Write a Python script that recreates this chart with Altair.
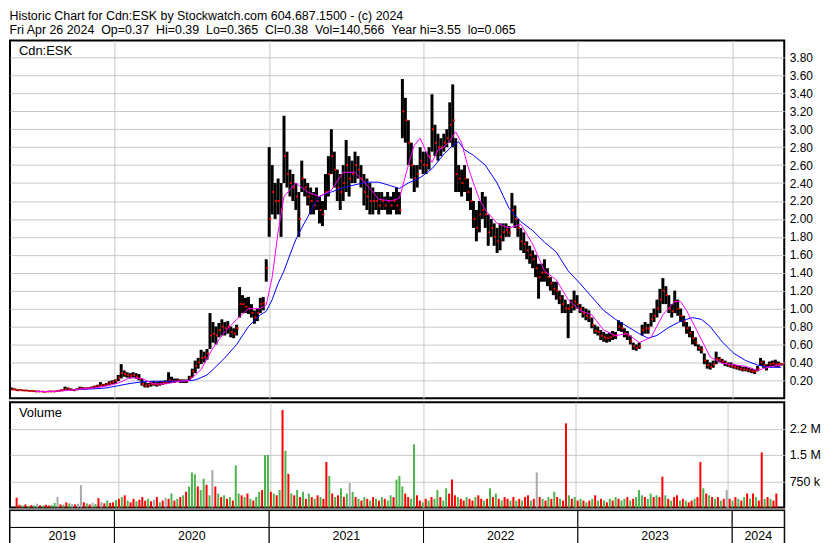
import altair as alt
import pandas as pd
import numpy as np

F = "Liberation Sans"
GRID = "#c8c8c8"
W = 779

START = "2019-05-03"  # first weekly bar (Friday)

header_1 = "Historic Chart for Cdn:ESK by Stockwatch.com 604.687.1500 - (c) 2024"
header_2 = ("Fri Apr 26 2024 \u00a0Op=0.37 \u00a0Hi=0.39 \u00a0Lo=0.365 \u00a0Cl=0.38"
            " \u00a0Vol=140,566 \u00a0Year hi=3.55 \u00a0lo=0.065")

# weekly lows
lo = [
    .09, .09, .08, .085, .08, .08, .075, .075, .07, .07,
    .07, .065, .07, .07, .07, .07, .075, .08, .085, .09,
    .085, .08, .09, .10, .10, .10, .105, .11, .11, .12,
    .13, .13, .14, .15, .16, .16, .19, .22, .24, .23,
    .22, .23, .22, .20, .14, .12, .12, .13, .14, .13,
    .14, .15, .16, .17, .17, .17, .18, .17, .17, .17,
    .20, .23, .28, .33, .38, .40, .43, .55, .62, .60,
    .68, .70, .70, .72, .68, .67, .70, .90, .95, .95,
    .94, .90, .83, .86, .95, .98, 1.30, 1.80, 2.05, 2.00,
    2.05, 1.80, 2.40, 2.35, 2.25, 2.20, 2.10, 1.80, 2.30, 2.25,
    2.15, 2.05, 2.05, 2.10, 1.95, 1.92, 2.10, 2.25, 2.50, 2.35,
    2.20, 2.10, 2.20, 2.30, 2.25, 2.40, 2.40, 2.45, 2.35, 2.15,
    2.10, 2.05, 2.05, 2.10, 2.05, 2.10, 2.10, 2.05, 2.05, 2.10,
    2.05, 2.05, 2.90, 2.85, 2.60, 2.45, 2.30, 2.35, 2.55, 2.50,
    2.50, 2.55, 2.75, 2.70, 2.65, 2.70, 2.75, 2.80, 2.85, 2.80,
    2.30, 2.30, 2.25, 2.30, 2.20, 2.10, 1.90, 1.75, 1.85, 2.00,
    1.90, 1.70, 1.80, 1.70, 1.62, 1.65, 1.75, 1.80, 1.80, 1.95,
    1.90, 1.80, 1.65, 1.62, 1.55, 1.50, 1.45, 1.35, 1.11, 1.30,
    1.30, 1.25, 1.20, 1.15, 1.10, 1.05, .95, .95, .67, .95,
    .98, 1.00, .95, .90, .87, .85, .78, .72, .70, .65,
    .63, .62, .63, .65, .66, .75, .74, .68, .65, .60,
    .54, .53, .55, .70, .72, .72, .80, .85, .90, .95,
    1.05, 1.05, .95, .90, .95, .92, .85, .80, .72, .68,
    .60, .58, .53, .50, .38, .33, .32, .34, .38, .40,
    .39, .36, .35, .34, .33, .32, .31, .30, .30, .29,
    .28, .27, .30, .36, .34, .31, .35, .36, .35, .35,
    .365,
]

# weekly highs
hi = [
    .12, .11, .10, .10, .095, .095, .09, .09, .085, .085,
    .08, .08, .08, .085, .08, .085, .09, .10, .13, .12,
    .11, .10, .11, .13, .125, .12, .125, .13, .14, .15,
    .18, .16, .17, .19, .20, .21, .26, .38, .31, .29,
    .28, .29, .28, .27, .22, .18, .17, .18, .19, .18,
    .19, .19, .20, .29, .24, .22, .22, .21, .21, .21,
    .25, .33, .42, .45, .54, .52, .55, .95, .85, .80,
    .84, .88, .85, .86, .80, .78, .82, 1.24, 1.15, 1.12,
    1.13, 1.05, .98, 1.00, 1.12, 1.13, 1.55, 2.80, 2.60, 2.40,
    2.45, 2.40, 3.15, 2.75, 2.55, 2.50, 2.40, 2.30, 2.65, 2.45,
    2.40, 2.35, 2.30, 2.35, 2.25, 2.20, 2.50, 2.70, 3.00, 2.75,
    2.55, 2.50, 2.60, 2.88, 2.70, 2.65, 2.75, 2.70, 2.60, 2.50,
    2.45, 2.40, 2.35, 2.30, 2.30, 2.30, 2.25, 2.30, 2.25, 2.30,
    2.35, 2.30, 3.56, 3.35, 3.10, 2.85, 2.60, 2.60, 2.80, 2.75,
    2.75, 2.80, 3.39, 3.05, 2.95, 2.90, 2.95, 3.00, 3.30, 3.50,
    2.90, 2.60, 2.55, 2.60, 2.45, 2.35, 2.20, 2.10, 2.20, 2.30,
    2.25, 2.05, 2.00, 1.95, 1.90, 1.95, 1.95, 1.95, 1.92, 2.29,
    2.15, 2.00, 1.90, 1.85, 1.75, 1.70, 1.65, 1.60, 1.50, 1.50,
    1.55, 1.45, 1.35, 1.30, 1.30, 1.20, 1.15, 1.10, 1.05, 1.10,
    1.20, 1.15, 1.05, 1.02, 1.00, .98, .90, .82, .80, .76,
    .74, .72, .73, .75, .74, .87, .85, .78, .75, .70,
    .62, .60, .62, .82, .85, .83, .95, 1.00, 1.10, 1.22,
    1.34, 1.25, 1.15, 1.05, 1.20, 1.10, 1.00, .92, .85, .80,
    .75, .68, .60, .58, .50, .43, .40, .42, .52, .46,
    .44, .42, .40, .40, .38, .37, .36, .35, .35, .34,
    .33, .32, .36, .45, .42, .38, .41, .42, .43, .41,
    .39,
]

# weekly closes
cl = [
    .10, .095, .09, .09, .085, .085, .08, .08, .075, .075,
    .075, .07, .075, .075, .075, .08, .085, .09, .10, .10,
    .095, .09, .10, .11, .11, .11, .115, .12, .13, .14,
    .15, .145, .16, .17, .18, .20, .23, .28, .27, .26,
    .25, .26, .24, .22, .16, .14, .15, .16, .16, .15,
    .16, .17, .18, .20, .19, .19, .20, .19, .19, .19,
    .23, .30, .36, .40, .45, .46, .50, .70, .72, .70,
    .76, .80, .78, .80, .74, .72, .78, 1.05, 1.05, 1.02,
    1.00, .95, .90, .95, 1.05, 1.06, 1.45, 2.00, 2.30, 2.20,
    2.20, 2.10, 2.70, 2.50, 2.40, 2.35, 2.25, 2.00, 2.45, 2.35,
    2.25, 2.20, 2.15, 2.20, 2.10, 2.05, 2.30, 2.50, 2.70, 2.55,
    2.35, 2.30, 2.40, 2.60, 2.45, 2.50, 2.60, 2.55, 2.45, 2.30,
    2.25, 2.20, 2.20, 2.20, 2.15, 2.20, 2.15, 2.20, 2.15, 2.20,
    2.15, 2.10, 3.20, 3.10, 2.85, 2.60, 2.45, 2.50, 2.65, 2.60,
    2.60, 2.70, 3.00, 2.85, 2.80, 2.80, 2.85, 2.90, 3.05, 3.10,
    2.50, 2.45, 2.40, 2.45, 2.30, 2.20, 2.00, 1.90, 2.05, 2.10,
    2.05, 1.85, 1.90, 1.80, 1.75, 1.80, 1.85, 1.88, 1.85, 2.10,
    2.00, 1.90, 1.75, 1.72, 1.65, 1.60, 1.55, 1.45, 1.35, 1.40,
    1.40, 1.35, 1.28, 1.22, 1.20, 1.12, 1.05, 1.00, 1.00, 1.02,
    1.08, 1.05, 1.00, .95, .92, .90, .82, .75, .74, .70,
    .68, .67, .68, .70, .70, .80, .78, .72, .70, .64,
    .58, .56, .58, .76, .78, .78, .88, .92, 1.00, 1.10,
    1.20, 1.15, 1.00, .97, 1.08, 1.00, .92, .86, .78, .73,
    .67, .62, .56, .54, .42, .37, .35, .38, .44, .43,
    .41, .39, .37, .36, .35, .34, .33, .32, .32, .31,
    .30, .30, .33, .40, .37, .35, .38, .39, .38, .38,
    .38,
]

# weekly volume (thousands of shares) and direction (g up, r down, k unchanged)
vol_k = [
    280, 80, 60, 90, 50, 70, 60, 110, 70, 50,
    80, 60, 70, 130, 300, 90, 80, 150, 120, 100,
    90, 110, 640, 150, 120, 90, 140, 100, 270, 160,
    120, 200, 130, 150, 210, 250, 300, 350, 200, 150,
    250, 180, 220, 300, 200, 250, 180, 220, 300, 150,
    200, 280, 250, 400, 200, 250, 300, 350, 450, 600,
    1000, 950, 600, 500, 820, 650, 350, 1070, 600, 400,
    300, 350, 250, 300, 200, 1200, 400, 350, 300, 400,
    250, 200, 300, 450, 500, 1500, 1500, 450, 400, 350,
    500, 2780, 1620, 960, 400, 350, 500, 300, 450, 250,
    400, 300, 250, 350, 300, 250, 1300, 900, 400, 300,
    350, 550, 300, 400, 700, 450, 300, 250, 200, 300,
    250, 200, 300, 250, 200, 300, 250, 200, 350, 300,
    800, 900, 600, 400, 300, 250, 1800, 350, 200, 150,
    250, 200, 300, 250, 500, 300, 200, 550, 400, 800,
    350, 300, 250, 200, 300, 250, 200, 300, 350, 250,
    200, 250, 550, 300, 400, 250, 200, 300, 250, 200,
    300, 200, 250, 200, 300, 350, 200, 250, 1000, 300,
    250, 200, 300, 250, 450, 300, 250, 200, 2400, 350,
    250, 300, 200, 250, 200, 150, 200, 250, 350, 200,
    250, 200, 150, 250, 200, 300, 250, 200, 250, 300,
    200, 250, 300, 500, 350, 300, 250, 400, 300, 350,
    300, 880, 350, 250, 200, 300, 350, 200, 250, 200,
    150, 200, 250, 300, 1300, 550, 400, 350, 300, 250,
    300, 200, 250, 500, 250, 200, 300, 250, 200, 300,
    400, 250, 400, 300, 200, 1570, 250, 300, 250, 200,
    400,
]
vol_dir = list(
    "rrgrgrgkrg" "rrggkrgrgk" "rkkrgrkgrk" "rgrrgrgrgr" "rgrrrgrkrg"
    "rkrgrgrgrg" "ggrggrgkrg" "rgrgrggrgr" "grggrggrgr" "grgrgrgrgr"
    "grgrgrrgrg" "rgrgkgrgrg" "rgrgrgrggr" "gggrrggrrg" "rgrggrggrr"
    "rgrrgrrgrr" "grgrgrgrrg" "rgrgrrgrkr" "grgrgrgrrg" "rgrgrgrgrg"
    "rgrgrgrggr" "grgggrggrg" "rrgrgrrgrg" "rrgrrgrgrg" "rgrkrgrgrg"
    "rgrgrrgrgr" "r"
)

# moving averages: week index -> value
fast_wk = [8, 12, 16, 20, 24, 28, 32, 36, 40, 44,
           48, 52, 56, 60, 64, 68, 72, 76, 80, 84,
           86, 88, 90, 92, 96, 100, 104, 108, 112, 116,
           120, 124, 128, 131, 134, 136, 138, 140, 142, 144,
           146, 148, 150, 152, 154, 156, 158, 160, 164, 168,
           172, 176, 180, 184, 188, 192, 196, 200, 204, 208,
           212, 216, 220, 224, 226, 228, 232, 236, 240, 244,
           248, 252, 256, 260]
fast_val = [0.075, 0.075, 0.08, 0.09, 0.105, 0.115, 0.135, 0.17, 0.23, 0.22,
            0.16, 0.16, 0.185, 0.2, 0.32, 0.56, 0.74, 0.88, 1.0, 1.0,
            1.04, 1.35, 1.85, 2.25, 2.4, 2.3, 2.25, 2.32, 2.52, 2.52,
            2.38, 2.22, 2.2, 2.23, 2.6, 2.82, 2.9, 2.75, 2.63, 2.77,
            2.8, 2.87, 2.97, 2.85, 2.6, 2.4, 2.22, 2.1, 1.95, 1.9,
            1.94, 1.72, 1.42, 1.32, 1.1, 0.98, 0.93, 0.76, 0.7, 0.72,
            0.62, 0.68, 0.93, 1.08, 1.08, 0.98, 0.72, 0.46, 0.39, 0.374,
            0.355, 0.31, 0.35, 0.374]
slow_wk = [21, 24, 28, 32, 36, 40, 44, 48, 52, 56,
           60, 62, 64, 66, 68, 72, 76, 80, 84, 86,
           88, 90, 92, 94, 96, 98, 100, 102, 104, 106,
           108, 112, 116, 120, 124, 128, 131, 134, 138, 142,
           146, 149, 151, 153, 156, 160, 164, 166, 168, 172,
           176, 180, 184, 188, 192, 196, 200, 204, 208, 212,
           215, 218, 222, 226, 230, 233, 236, 240, 244, 248,
           252, 256, 260]
slow_val = [0.095, 0.1, 0.105, 0.115, 0.14, 0.165, 0.183, 0.19, 0.19, 0.19,
            0.195, 0.205, 0.23, 0.26, 0.32, 0.45, 0.6, 0.8, 0.93, 0.97,
            1.1, 1.28, 1.42, 1.6, 1.77, 1.9, 2.02, 2.15, 2.25, 2.28,
            2.3, 2.35, 2.38, 2.41, 2.41, 2.37, 2.34, 2.4, 2.46, 2.56,
            2.72, 2.82, 2.86, 2.77, 2.71, 2.6, 2.4, 2.26, 2.12, 1.97,
            1.87, 1.74, 1.63, 1.42, 1.28, 1.13, 0.98, 0.88, 0.8, 0.72,
            0.67, 0.7, 0.79, 0.86, 0.9, 0.88, 0.8, 0.63, 0.5, 0.42,
            0.37, 0.345, 0.345]

price_ticks = [0.2, 0.4, 0.6, 0.8, 1.0, 1.2, 1.4, 1.6, 1.8, 2.0,
               2.2, 2.4, 2.6, 2.8, 3.0, 3.2, 3.4, 3.6, 3.8]
vol_ticks = [750000, 1500000, 2250000]
years = ["2019", "2020", "2021", "2022", "2023", "2024"]
year_bounds = ["2019-04-29", "2020-01-01", "2021-01-01", "2022-01-01",
               "2023-01-01", "2024-01-01", "2024-05-03"]

# ---------------------------------------------------------------- frames
start = pd.Timestamp(START)
dates = pd.date_range(START, periods=len(lo), freq="7D")
df = pd.DataFrame({"date": dates, "lo": lo, "hi": hi, "cl": cl,
                   "vol": np.array(vol_k) * 1000, "dir": vol_dir})
fast_df = pd.DataFrame({"date": start + pd.to_timedelta(np.array(fast_wk) * 7, unit="D"),
                        "v": fast_val})
slow_df = pd.DataFrame({"date": start + pd.to_timedelta(np.array(slow_wk) * 7, unit="D"),
                        "v": slow_val})
b = pd.to_datetime(year_bounds)
cells = []
for k, y in enumerate(years):
    for row in ["a", "b"]:
        cells.append({"year": y, "row": row, "start": b[k], "end": b[k + 1],
                      "mid": b[k] + (b[k + 1] - b[k]) / 2,
                      "label": y if row == "b" else ""})
cells = pd.DataFrame(cells)

# ---------------------------------------------------------------- scales
xs = alt.Scale(domain=[alt.DateTime(year=2019, month=4, date=29),
                       alt.DateTime(year=2024, month=5, date=3)])
year_vals = [alt.DateTime(year=y, month=1, date=1) for y in range(2020, 2025)]
xgrid = alt.Axis(values=year_vals, tickCount=len(year_vals), grid=True, gridColor=GRID,
                 labels=False, ticks=False, domain=False, title=None)
X = alt.X("date:T", scale=xs, axis=xgrid)
ys = alt.Scale(domain=[0, 3.99], nice=False, zero=False)
price_axis = alt.Axis(orient="right", values=price_ticks, tickCount=len(price_ticks),
                      format=".2f", grid=True, gridColor=GRID, ticks=False, domain=False,
                      labelFont=F, labelFontSize=12, labelColor="black", labelPadding=5,
                      labelOverlap=False, labelBound=False, title=None)

bars = alt.Chart(df).mark_rule(color="black", strokeWidth=3).encode(
    x=X, y=alt.Y("lo:Q", scale=ys, axis=price_axis), y2="hi:Q")
closes = alt.Chart(df).mark_square(color="red", size=4, opacity=1, xOffset=1).encode(
    x=alt.X("date:T", scale=xs), y=alt.Y("cl:Q", scale=ys))
fast = alt.Chart(fast_df).mark_line(color="#ff00ff", strokeWidth=1).encode(
    x=alt.X("date:T", scale=xs), y=alt.Y("v:Q", scale=ys))
slow = alt.Chart(slow_df).mark_line(color="#0000ff", strokeWidth=1).encode(
    x=alt.X("date:T", scale=xs), y=alt.Y("v:Q", scale=ys))
plab = alt.Chart(pd.DataFrame({"t": ["Cdn:ESK"]})).mark_text(
    align="left", baseline="middle", font=F, fontSize=13, color="black").encode(
    x=alt.value(9), y=alt.value(11), text="t:N")
price = alt.layer(bars, closes, slow, fast, plab).properties(width=W, height=360)

vol_axis = alt.Axis(orient="right", values=vol_ticks, tickCount=len(vol_ticks),
                    labelExpr="datum.value == 750000 ? '750 k' : datum.value == 1500000 ? '1.5 M' : '2.2 M'",
                    grid=True, gridColor=GRID, ticks=False, domain=False, labelFont=F,
                    labelFontSize=12.5, labelColor="black", labelPadding=5,
                    labelOverlap=False, title=None)
vbars = alt.Chart(df).mark_bar(width=2).encode(
    x=X,
    y=alt.Y("vol:Q", scale=alt.Scale(domain=[0, 3000000], nice=False), axis=vol_axis, stack=None),
    color=alt.Color("dir:N", scale=alt.Scale(domain=["g", "r", "k"],
                                             range=["#4db34d", "#ff0000", "#a8a8a8"]), legend=None))
vlab = alt.Chart(pd.DataFrame({"t": ["Volume"]})).mark_text(
    align="left", baseline="middle", font=F, fontSize=13, color="black").encode(
    x=alt.value(9), y=alt.value(11), text="t:N")
volume = alt.layer(vbars, vlab).properties(width=W, height=106)

ry = alt.Y("row:N", scale=alt.Scale(domain=["a", "b"], paddingInner=0, paddingOuter=0), axis=None)
rects = alt.Chart(cells).mark_rect(fill="white", stroke="black", strokeWidth=1).encode(
    x=alt.X("start:T", scale=xs, axis=None), x2="end:T", y=ry)
ytext = alt.Chart(cells).mark_text(font=F, fontSize=12.5, color="black", baseline="middle").encode(
    x=alt.X("mid:T", scale=xs, axis=None), y=ry, text="label:N")
yearrow = alt.layer(rects, ytext).properties(width=W, height=34)

chart = alt.vconcat(
    price, alt.vconcat(volume, yearrow, spacing=0), spacing=2
).properties(
    padding=0,
    title=alt.TitleParams(text=[header_1, header_2], anchor="start", font=F, fontSize=12.5,
                          fontWeight="normal", color="black", lineHeight=14, offset=3, dx=1),
).configure_view(stroke="black", strokeWidth=2)

chart.save("out.html", embed_options={"renderer": "svg", "actions": False})
